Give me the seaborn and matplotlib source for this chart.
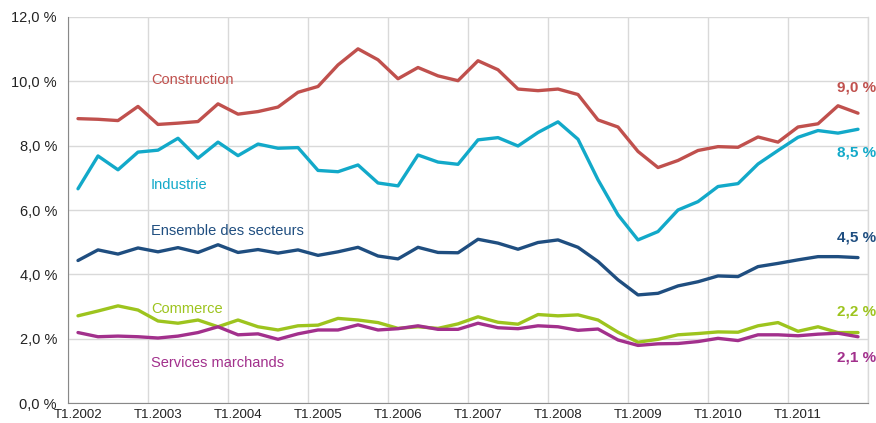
import pandas as pd
import matplotlib
matplotlib.use('Agg')
import matplotlib.pyplot as plt
import seaborn as sns
import numpy as np

# Quarterly data T1.2002 - T4.2011
years = list(range(2002, 2012))
quarters = [f'T{q}.{y}' for y in years for q in range(1, 5)]

construction = [8.84, 8.82, 8.78, 9.22, 8.66, 8.70, 8.75, 9.30, 8.98, 9.06,
                9.20, 9.66, 9.84, 10.51, 11.01, 10.67, 10.08, 10.43, 10.17, 10.02,
                10.64, 10.36, 9.76, 9.71, 9.76, 9.59, 8.80, 8.58, 7.82, 7.32,
                7.54, 7.85, 7.97, 7.95, 8.27, 8.11, 8.58, 8.68, 9.24, 9.01]
industrie = [6.66, 7.68, 7.25, 7.80, 7.86, 8.23, 7.61, 8.11, 7.69, 8.05,
             7.92, 7.94, 7.23, 7.19, 7.40, 6.84, 6.75, 7.71, 7.49, 7.42,
             8.18, 8.25, 7.99, 8.41, 8.74, 8.20, 6.94, 5.85, 5.07, 5.33,
             6.00, 6.26, 6.73, 6.82, 7.43, 7.85, 8.26, 8.47, 8.39, 8.51]
ensemble = [4.43, 4.76, 4.63, 4.82, 4.70, 4.83, 4.68, 4.92, 4.68, 4.77,
            4.66, 4.76, 4.59, 4.70, 4.84, 4.57, 4.48, 4.84, 4.68, 4.67,
            5.09, 4.97, 4.78, 4.99, 5.07, 4.84, 4.40, 3.83, 3.36, 3.41,
            3.64, 3.77, 3.95, 3.93, 4.24, 4.34, 4.45, 4.55, 4.55, 4.52]
commerce = [2.71, 2.86, 3.02, 2.89, 2.55, 2.48, 2.58, 2.37, 2.58, 2.37,
            2.27, 2.40, 2.42, 2.63, 2.58, 2.50, 2.32, 2.37, 2.32, 2.46,
            2.68, 2.51, 2.45, 2.75, 2.71, 2.74, 2.58, 2.20, 1.89, 1.98,
            2.12, 2.16, 2.21, 2.20, 2.40, 2.50, 2.23, 2.37, 2.19, 2.19]
services = [2.19, 2.06, 2.08, 2.06, 2.02, 2.08, 2.19, 2.37, 2.12, 2.15,
            1.98, 2.15, 2.27, 2.27, 2.43, 2.27, 2.31, 2.40, 2.29, 2.29,
            2.48, 2.34, 2.31, 2.40, 2.37, 2.26, 2.30, 1.96, 1.79, 1.84,
            1.85, 1.91, 2.01, 1.94, 2.12, 2.12, 2.09, 2.14, 2.17, 2.06]

series_names = ['Construction', 'Industrie', 'Ensemble des secteurs', 'Commerce', 'Services marchands']
end_labels = ['9,0 %', '8,5 %', '4,5 %', '2,2 %', '2,1 %']
colors = ['#C0504D', '#12A9C9', '#1F4E80', '#9DC41E', '#A2308C']

df = pd.DataFrame({
    'idx': np.arange(len(quarters)),
    'Construction': construction,
    'Industrie': industrie,
    'Ensemble des secteurs': ensemble,
    'Commerce': commerce,
    'Services marchands': services,
})
df_long = df.melt(id_vars='idx', var_name='secteur', value_name='taux')

sns.set_style('white')
plt.rcParams['font.family'] = ['Liberation Sans', 'DejaVu Sans']

fig = plt.figure(figsize=(8.76, 4.23), dpi=100)
ax = fig.add_axes([68 / 876, 20 / 423, 800 / 876, 386 / 423])

sns.lineplot(data=df_long, x='idx', y='taux', hue='secteur', hue_order=series_names,
             palette=colors, linewidth=2.4, legend=False, ax=ax, zorder=3)

ax.set_xlim(-0.5, len(quarters) - 0.5)
ax.set_ylim(0, 12)

# grid: y every 2, x at year boundaries
ax.set_yticks(np.arange(0, 12.1, 2))
ax.set_yticklabels([f'{v:.1f} %'.replace('.', ',') for v in np.arange(0, 12.1, 2)],
                   fontsize=10.5, color='#222222')
ax.set_xticks(np.arange(-0.5, len(quarters), 4), minor=False)
ax.set_xticklabels([])
ax.set_xticks(np.arange(0, len(quarters), 4), minor=True)
ax.set_xticklabels([quarters[i] for i in range(0, len(quarters), 4)], minor=True,
                   fontsize=9.5, color='#222222')
ax.tick_params(axis='x', which='minor', length=0, pad=4)
ax.tick_params(axis='x', which='major', length=4, color='#888888', width=1)
ax.tick_params(axis='y', length=5, color='#D9D9D9', width=1, pad=3)
ax.grid(True, which='major', color='#D9D9D9', linewidth=1)
ax.set_axisbelow(True)

for side in ['top']:
    ax.spines[side].set_visible(False)
ax.spines['right'].set_color('#D9D9D9')
ax.spines['right'].set_linewidth(1)
ax.spines['left'].set_color('#888888')
ax.spines['bottom'].set_color('#888888')
ax.set_xlabel('')
ax.set_ylabel('')

# series labels
label_pos = [10.05, 6.78, 5.35, 2.92, 1.24]
for name, yv, c in zip(series_names, label_pos, colors):
    ax.text(3.65, yv, name, color=c, fontsize=10.5, va='center', ha='left')

# end values
end_pos = [9.8, 7.78, 5.13, 2.83, 1.40]
for lab, yv, c in zip(end_labels, end_pos, colors):
    ax.text(39.9, yv, lab, color=c, fontsize=11, fontweight='bold',
            va='center', ha='right', family=['Liberation Sans Narrow', 'Liberation Sans'])

fig.savefig('out.png', dpi=100)
